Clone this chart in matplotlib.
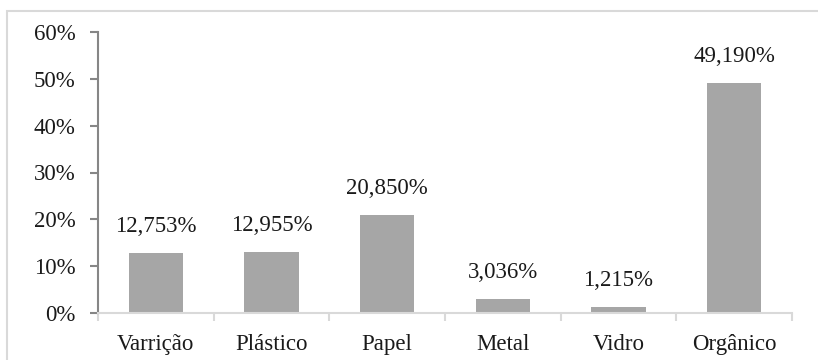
import matplotlib.pyplot as plt
from matplotlib.patches import Rectangle
from matplotlib.ticker import FuncFormatter, FixedLocator

# Composição dos resíduos (%)
categorias = ["Varrição", "Plástico", "Papel", "Metal", "Vidro", "Orgânico"]
valores = [12.753, 12.955, 20.850, 3.036, 1.215, 49.190]

plt.rcParams['font.family'] = ['Liberation Serif', 'DejaVu Serif']
FS = 16.5

fig = plt.figure(figsize=(8.18, 3.6), dpi=100)
ax = fig.add_axes([98 / 818, 47 / 360, 694 / 818, 281 / 360])

x = list(range(len(categorias)))
ax.bar(x, [v / 100 for v in valores], width=0.47, color='#A6A6A6', zorder=2)

# Rótulos de dados
for xi, v in zip(x, valores):
    txt = f"{v:.3f}".replace('.', ',') + '%'
    ax.annotate(txt, (xi, v / 100), xytext=(0, 19), textcoords='offset points',
                ha='center', va='center', fontsize=FS, color='#1a1a1a')

ax.set_xlim(-0.5, len(categorias) - 0.5)
ax.set_ylim(0, 0.6)
ax.set_yticks([0, 0.1, 0.2, 0.3, 0.4, 0.5, 0.6])
ax.yaxis.set_major_formatter(FuncFormatter(lambda v, p: f"{v * 100:.0f}%"))

ax.set_xticks(x)
ax.set_xticklabels(categorias)
ax.xaxis.set_minor_locator(FixedLocator([i - 0.5 for i in range(len(categorias) + 1)]))

ax.tick_params(axis='x', which='major', length=0, pad=15, labelsize=FS, labelcolor='#1a1a1a')
ax.tick_params(axis='x', which='minor', length=6, width=1.5, color='#D9D9D9', direction='out')
ax.tick_params(axis='y', length=6, width=1.5, color='#868686', pad=10, labelsize=FS,
               labelcolor='#1a1a1a')

for s in ['top', 'right']:
    ax.spines[s].set_visible(False)
ax.spines['left'].set_color('#868686')
ax.spines['left'].set_linewidth(1.5)
ax.spines['bottom'].set_color('#D9D9D9')
ax.spines['bottom'].set_linewidth(1.5)

# Moldura do gráfico
fig.patches.append(Rectangle((7 / 818, -0.2), 1.2, (360 - 11) / 360 + 0.2,
                             transform=fig.transFigure, fill=False,
                             edgecolor='#D9D9D9', linewidth=1.5, clip_on=False))

fig.savefig('out.png', dpi=100)
